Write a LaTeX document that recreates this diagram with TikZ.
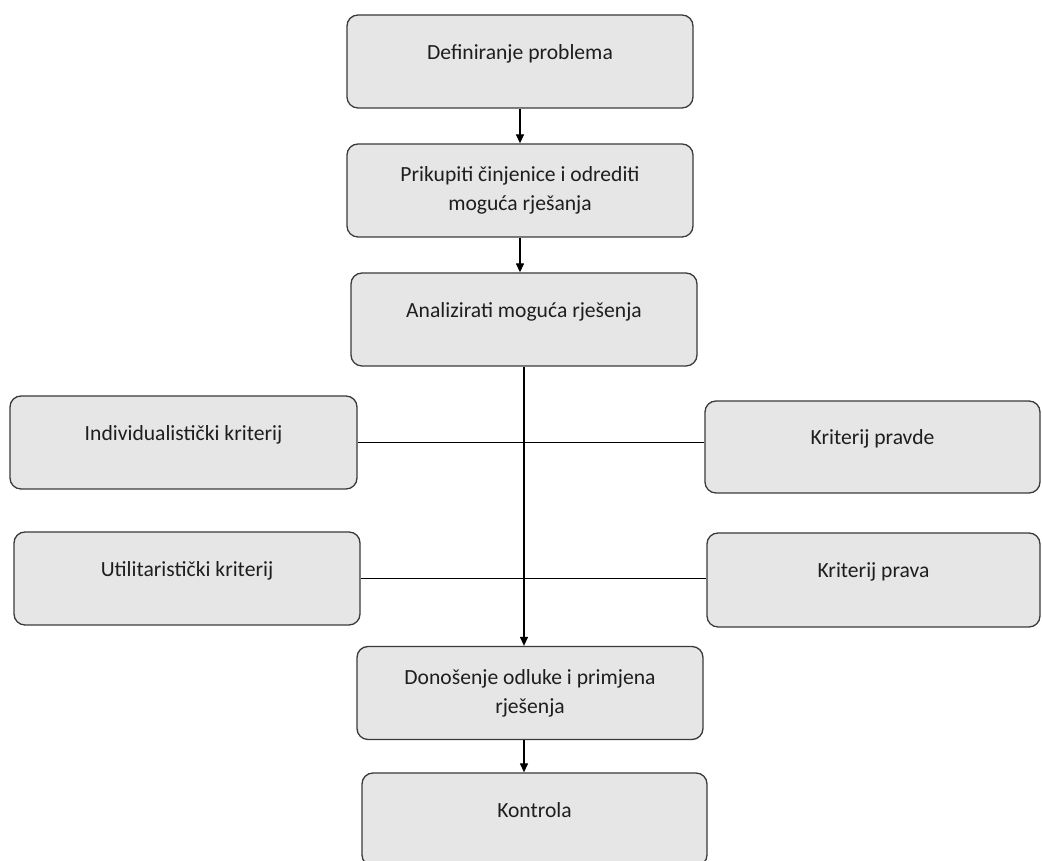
\documentclass[tikz,border=0pt]{standalone}
\usepackage{fontspec}
\setmainfont{Carlito}
\usepackage{tikz}
\usetikzlibrary{arrows.meta}

\definecolor{boxfill}{HTML}{E6E6E6}
\definecolor{boxline}{HTML}{3A3A3A}
\definecolor{boxtext}{HTML}{1E1E1E}

\tikzset{
	stage/.style={draw=boxline, fill=boxfill, line width=1.3pt, rounded corners=11pt,
		minimum width=346pt, minimum height=93pt, inner sep=0pt, align=center,
		text=boxtext, font=\fontsize{21.6}{29}\selectfont},
	oneline/.style={text height=15pt, text depth=19pt},
	flow/.style={line width=1.3pt, -{Triangle[length=9pt,width=8pt]}}
}

\begin{document}
\begin{tikzpicture}[x=1pt, y=1pt]
	\useasboundingbox (0,0) rectangle (1042,861);
	\node (def) at (520,799.5) [stage, oneline] {Definiranje problema};
		\node (prik) at (520,670.5) [stage] {Prikupiti činjenice i odrediti\\moguća rješanja};
			\node (anal) at (524,541.5) [stage, oneline] {Analizirati moguća rješenja};
	\node (indiv) at (183.5,418.5) [stage, oneline, minimum width=347pt] {Individualistički kriterij};
	\node (pravde) at (872.5,414) [stage, oneline, minimum width=335pt, minimum height=92pt] {Kriterij pravde};
	\node (util) at (187,282.5) [stage, oneline] {Utilitaristički kriterij};
	\node (prava) at (873.5,281) [stage, oneline, minimum width=333pt, minimum height=94pt] {Kriterij prava};
		\node (odl) at (530,168) [stage] {Donošenje odluke i primjena\\rješenja};
			\node (kon) at (534.5,41.5) [stage, oneline, minimum width=345pt] {Kontrola};
	\draw[flow] (def) -- (prik);
	\draw[flow] (prik) -- (prik |- anal.north);
	\draw[flow] (anal) -- (anal |- odl.north);
	\draw[flow] (anal |- odl.south) -- (anal |- kon.north);
	\draw[line width=1.3pt] (indiv.east) -- (indiv.east -| pravde.west)
		  (util.east) -- (util.east -| prava.west);
\end{tikzpicture}
\end{document}
